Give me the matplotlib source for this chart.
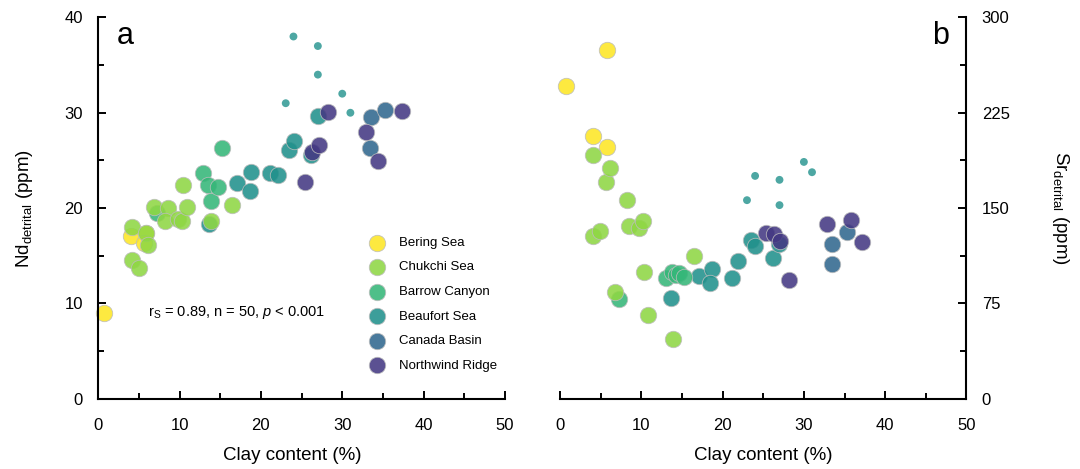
import numpy as np
import matplotlib
matplotlib.use('Agg')
import matplotlib.pyplot as plt
from matplotlib.ticker import MultipleLocator

plt.rcParams['font.family'] = ['Liberation Sans', 'DejaVu Sans']
plt.rcParams['mathtext.fontset'] = 'custom'
plt.rcParams['mathtext.rm'] = 'Liberation Sans'
plt.rcParams['mathtext.it'] = 'Liberation Sans:italic'

# ── Data ──────────────────────────────────────────────────────────────────────

regions = ['Bering Sea', 'Chukchi Sea', 'Barrow Canyon',
           'Beaufort Sea', 'Canada Basin', 'Northwind Ridge']
colors  = ['#fde725', '#8fd744', '#35b779', '#21918c', '#31688e', '#443983']
zorders = [2, 7, 6, 3, 4, 5]

# panel a: clay (%) vs Nd detrital (ppm)
bering_clay_a   = [0.7, 4.0, 5.9, 5.6]
bering_nd       = [9.0, 17.1, 17.4, 16.3]
chukchi_clay_a  = [4.1, 5.85, 6.1, 4.1, 5.0, 6.8, 8.6, 8.25, 9.75, 10.25, 10.9, 10.4, 16.5, 13.8]
chukchi_nd      = [18.0, 17.4, 16.1, 14.6, 13.7, 20.1, 20.0, 18.6, 18.9, 18.6, 20.1, 22.4, 20.3, 18.6]
barrow_clay_a   = [7.2, 12.9, 13.5, 13.9, 14.7, 15.2]
barrow_nd       = [19.5, 23.65, 22.4, 20.75, 22.2, 26.3]
beaufort_clay_a = [13.6, 17.0, 18.75, 18.6, 21.1, 22.1, 23.5, 24.05, 26.1, 27.0]
beaufort_nd     = [18.3, 22.6, 23.8, 21.8, 23.7, 23.5, 26.1, 27.0, 25.6, 29.7]
canada_clay_a   = [33.5, 35.3, 33.4]
canada_nd       = [29.6, 30.3, 26.3]
nwr_clay_a      = [25.4, 26.3, 27.15, 28.3, 32.9, 34.4, 37.3]
nwr_nd          = [22.7, 25.9, 26.6, 30.05, 28.0, 24.9, 30.2]

# panel b: clay (%) vs Sr detrital (ppm)
bering_clay_b   = [0.7, 4.0, 5.75, 5.75]
bering_sr       = [246, 207, 274, 198]
chukchi_clay_b  = [4.0, 5.7, 6.1, 4.05, 4.9, 6.75, 8.55, 8.25, 9.7, 10.2, 10.8, 10.3, 16.5, 13.85]
chukchi_sr      = [192, 170.6, 181.4, 128, 132, 84, 136, 156.4, 134, 139.7, 66, 99.5, 112.2, 47]
barrow_clay_b   = [7.3, 13.0, 13.8, 14.3, 14.6, 15.2]
barrow_sr       = [78.4, 94.9, 99.5, 97.5, 98.8, 96.1]
beaufort_clay_b = [13.6, 17.1, 18.66, 18.45, 21.15, 21.9, 23.45, 24.0, 26.2, 27.0]
beaufort_sr     = [78.9, 96.9, 102.4, 91, 95.2, 108.7, 125, 120.2, 110.6, 121.8]
canada_clay_b   = [33.45, 35.25, 33.4]
canada_sr       = [121.9, 131.2, 106.1]
nwr_clay_b      = [25.3, 26.3, 27.1, 28.2, 32.8, 35.75, 37.2]
nwr_sr          = [130.3, 129.6, 124.3, 93.0, 137.6, 140.7, 122.9]

# small markers (additional Beaufort Sea samples)
small_clay_a = [24.0, 27.0, 27.0, 30.0, 23.05, 31.0]
small_nd     = [38.0, 37.0, 34.0, 32.0, 31.0, 30.0]
small_clay_b = [24.0, 27.0, 27.0, 30.0, 23.0, 31.0]
small_sr     = [175.3, 172.2, 152.3, 186.3, 156.2, 178.2]

panel_a = [(bering_clay_a, bering_nd), (chukchi_clay_a, chukchi_nd),
           (barrow_clay_a, barrow_nd), (beaufort_clay_a, beaufort_nd),
           (canada_clay_a, canada_nd), (nwr_clay_a, nwr_nd)]
panel_b = [(bering_clay_b, bering_sr), (chukchi_clay_b, chukchi_sr),
           (barrow_clay_b, barrow_sr), (beaufort_clay_b, beaufort_sr),
           (canada_clay_b, canada_sr), (nwr_clay_b, nwr_sr)]

# ── Figure ────────────────────────────────────────────────────────────────────

fig = plt.figure(figsize=(10.8, 4.69), dpi=100)
ax1 = fig.add_axes([0.091, 0.150, 0.3765, 0.8128])
ax2 = fig.add_axes([0.5185, 0.150, 0.3764, 0.8128])

MS, MS_SMALL = 140, 32

def scatter_panel(ax, data, small_x, small_y):
    for (x, y), lab, c, z in zip(data, regions, colors, zorders):
        ax.scatter(x, y, s=MS, color=c, alpha=0.88, edgecolors='#bdbdbd',
                   linewidths=0.6, label=lab, zorder=z, clip_on=False)
    ax.scatter(small_x, small_y, s=MS_SMALL, color='#21918c', alpha=0.8,
               edgecolors='none', zorder=2)

def style_axis(ax):
    ax.set_xlim(0, 50)
    ax.xaxis.set_major_locator(MultipleLocator(10))
    ax.xaxis.set_minor_locator(MultipleLocator(5))
    ax.tick_params(which='major', direction='in', length=6, width=1.4,
                   labelsize=12, pad=11)
    ax.tick_params(axis='x', which='major', pad=14)
    ax.tick_params(which='minor', direction='in', length=4, width=1.4)
    for s in ax.spines.values():
        s.set_linewidth(1.5)
    ax.set_xlabel('Clay content (%)', fontsize=13.5, labelpad=10)

scatter_panel(ax1, panel_a, small_clay_a, small_nd)
scatter_panel(ax2, panel_b, small_clay_b, small_sr)

# panel a
style_axis(ax1)
ax1.set_ylim(0, 40)
ax1.yaxis.set_major_locator(MultipleLocator(10))
ax1.yaxis.set_minor_locator(MultipleLocator(5))
ax1.spines[['top', 'right']].set_visible(False)
ax1.xaxis.label.set_x(0.478)
ax1.set_ylabel(r'Nd$_{\mathregular{detrital}}$ (ppm)', fontsize=13.5, labelpad=21)
ax1.text(0.066, 0.951, 'a', transform=ax1.transAxes, fontsize=22,
         ha='center', va='center')
ax1.text(6.1, 9.0, r'r$_\mathregular{S}$ = 0.89, n = 50, $p$ < 0.001',
         fontsize=10.5, va='center')
ax1.legend(loc='upper left', bbox_to_anchor=(0.638, 0.442), frameon=False,
           fontsize=9.5, labelspacing=0.93, handletextpad=0.65,
           handlelength=2.0, borderpad=0, scatterpoints=1)

# panel b
style_axis(ax2)
ax2.set_ylim(0, 300)
ax2.yaxis.set_major_locator(MultipleLocator(75))
ax2.yaxis.set_minor_locator(MultipleLocator(37.5))
ax2.spines[['top', 'left']].set_visible(False)
ax2.yaxis.tick_right()
ax2.yaxis.set_label_position('right')
ax2.tick_params(axis='y', which='both', left=False, right=True)
ax2.set_ylabel(r'Sr$_{\mathregular{detrital}}$ (ppm)', fontsize=13.5,
               rotation=270, labelpad=44)
ax2.text(0.937, 0.951, 'b', transform=ax2.transAxes, fontsize=22,
         ha='center', va='center')

fig.savefig('out.png', dpi=100)
